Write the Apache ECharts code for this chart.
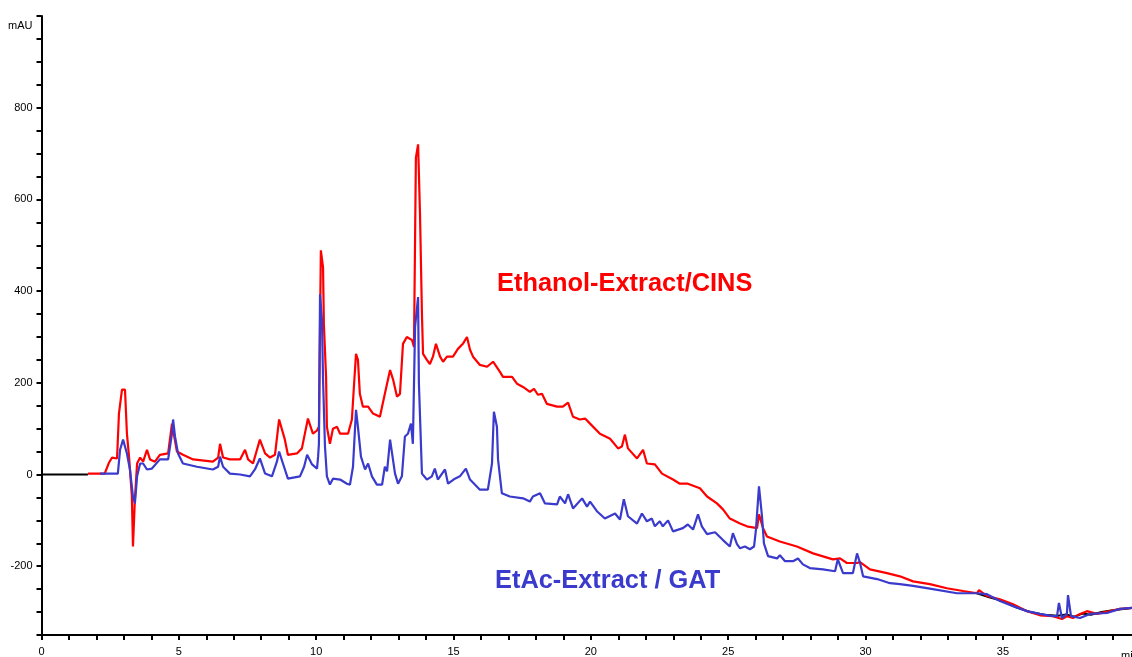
<!DOCTYPE html>
<html><head><meta charset="utf-8">
<script src="https://cdn.jsdelivr.net/npm/echarts@6/dist/echarts.min.js"></script>
<style>html,body{margin:0;padding:0;background:#fff}#c{width:1132px;height:657px}</style>
</head><body><div id="c"></div>
<script>
// Ethanol-Extract / CINS (red)
const ethanolTime = [1.69,2.13,2.3,2.45,2.57,2.75,2.82,2.93,3.0,3.04,3.11,3.19,3.29,3.33,3.40,3.48,3.59,3.70,3.84,3.95,4.13,4.31,4.61,4.75,4.79,4.93,5.15,5.52,6.24,6.43,6.50,6.61,6.86,7.23,7.41,7.52,7.70,7.95,8.14,8.32,8.50,8.65,8.86,8.97,9.30,9.48,9.70,9.88,10.03,10.10,10.17,10.25,10.28,10.36,10.39,10.50,10.61,10.76,10.87,11.16,11.30,11.38,11.45,11.52,11.59,11.70,11.89,12.07,12.32,12.50,12.69,12.80,12.94,13.05,13.16,13.30,13.49,13.56,13.63,13.71,13.78,13.85,13.89,14.03,14.14,14.25,14.36,14.51,14.62,14.76,14.98,15.16,15.34,15.49,15.60,15.71,15.96,16.22,16.44,16.69,16.80,17.13,17.31,17.53,17.78,17.93,18.07,18.22,18.40,18.77,18.98,19.17,19.35,19.60,19.79,19.97,20.33,20.70,20.99,21.13,21.24,21.35,21.68,21.90,22.04,22.33,22.59,22.99,23.24,23.53,23.97,24.23,24.59,24.81,25.06,25.43,25.68,26.05,26.12,26.27,26.41,26.88,27.50,28.09,28.81,29.07,29.32,29.69,29.80,30.16,30.78,31.25,31.73,32.34,32.96,33.55,34.06,34.13,34.42,34.89,35.37,35.88,36.35,36.82,37.15,37.33,37.55,37.81,38.06,38.42,38.90,39.26,39.70];
const ethanolValue = [2,2,2,25,37,35,133,185,187,185,89,37,-48,-157,-54,24,37,28,54,33,28,43,46,111,115,50,43,33,28,37,67,37,33,33,54,33,24,76,46,37,43,120,76,43,46,57,122,89,96,104,489,452,328,213,104,67,100,104,89,89,120,198,263,250,176,148,148,133,126,176,228,207,170,176,285,300,293,278,691,720,567,350,263,250,241,257,285,257,246,257,257,274,285,300,272,257,239,235,246,224,213,213,198,191,180,187,174,176,154,148,148,157,126,120,122,111,89,78,57,61,87,57,35,54,24,22,2,-11,-20,-20,-30,-48,-63,-76,-96,-107,-113,-117,-87,-117,-135,-146,-157,-172,-185,-183,-193,-193,-191,-207,-215,-222,-233,-239,-248,-254,-259,-252,-265,-272,-283,-298,-307,-309,-315,-309,-313,-304,-298,-304,-298,-293,-291];

// EtAc-Extract / GAT (blue)
const etacTime = [2.13,2.78,2.86,2.97,3.11,3.22,3.33,3.40,3.48,3.59,3.70,3.84,4.02,4.31,4.61,4.75,4.79,4.86,4.97,5.15,5.66,6.24,6.43,6.50,6.61,6.86,7.23,7.59,7.77,7.95,8.14,8.39,8.57,8.65,8.79,8.97,9.41,9.56,9.67,9.85,10.03,10.07,10.10,10.14,10.21,10.25,10.32,10.39,10.50,10.61,10.87,11.12,11.23,11.34,11.45,11.52,11.63,11.78,11.89,12.03,12.21,12.40,12.50,12.58,12.69,12.76,12.87,12.98,13.12,13.23,13.34,13.45,13.52,13.60,13.71,13.74,13.85,14.03,14.21,14.32,14.43,14.69,14.80,15.05,15.23,15.45,15.60,15.96,16.25,16.40,16.47,16.58,16.62,16.76,17.05,17.53,17.78,17.89,18.15,18.33,18.77,18.87,19.06,19.17,19.35,19.68,19.86,19.97,20.22,20.51,20.88,21.06,21.20,21.35,21.68,21.86,22.04,22.22,22.33,22.51,22.62,22.81,22.99,23.35,23.53,23.72,23.90,24.04,24.23,24.52,24.81,25.06,25.17,25.32,25.43,25.61,25.79,25.94,26.01,26.12,26.23,26.30,26.45,26.78,26.88,27.07,27.36,27.54,27.72,27.97,28.45,28.89,28.99,29.18,29.54,29.69,29.80,29.91,30.42,30.89,31.25,31.73,32.45,33.33,34.06,34.42,34.89,35.37,35.88,36.35,36.82,36.97,37.04,37.15,37.33,37.37,37.48,37.81,38.17,38.79,39.26,39.70];
const etacValue = [2,2,54,76,46,11,-48,-63,-4,24,24,11,13,33,33,89,120,83,46,24,17,11,17,39,17,2,0,-4,11,35,2,-4,28,50,24,-9,-4,17,43,22,13,39,67,393,337,207,61,-4,-22,-9,-11,-20,-22,17,141,104,39,11,24,-4,-22,-22,17,7,76,72,2,-20,-4,83,89,111,67,322,387,198,2,-11,-4,13,-11,11,-20,-9,-4,13,-11,-33,-33,24,137,104,33,-41,-48,-52,-59,-48,-41,-63,-65,-48,-63,-43,-74,-52,-70,-59,-80,-96,-85,-98,-54,-91,-107,-85,-102,-96,-113,-102,-113,-100,-124,-117,-109,-120,-87,-113,-130,-126,-143,-157,-128,-152,-161,-157,-163,-157,-120,-26,-91,-150,-178,-183,-176,-189,-189,-183,-196,-204,-207,-211,-185,-215,-215,-172,-193,-222,-228,-237,-239,-243,-250,-259,-259,-261,-276,-287,-298,-304,-309,-309,-280,-313,-304,-263,-309,-313,-304,-302,-293,-291];

// third (black) trace, mostly hidden underneath
const blankTime = [0,1.69,null,34.0,34.5,35.0,35.5,36.0,36.5,37.0,37.3,37.6,37.9,38.2,38.6,39.0,39.70];
const blankValue = [0,0,null,-258,-268,-276,-290,-300,-306,-308,-305,-310,-303,-306,-300,-296,-291];

const zip = (t, v) => t.map((x, i) => x === null ? [null, null] : [x, v[i]]);
const FONT = '"Liberation Sans", Arial, sans-serif';

const chart = echarts.init(document.getElementById('c'), null, {renderer: 'canvas'});
chart.setOption({
  animation: false,
  backgroundColor: '#ffffff',
  grid: {left: 41.5, right: 0, top: 16, bottom: 17.3, containLabel: false},
  xAxis: {
    type: 'value', min: 0, max: 39.7, interval: 1,
    splitLine: {show: false},
    axisLine: {onZero: false, lineStyle: {color: '#000', width: 2}},
    axisTick: {length: 5, lineStyle: {color: '#000', width: 2}},
    axisLabel: {
      margin: 11, color: '#000', fontSize: 11, fontFamily: FONT,
      showMaxLabel: false,
      formatter: v => (Math.abs(v % 5) < 1e-9 ? String(v) : '')
    }
  },
  yAxis: {
    type: 'value', min: -350, max: 1000, interval: 50,
    splitLine: {show: false},
    axisLine: {onZero: false, lineStyle: {color: '#000', width: 2}},
    axisTick: {length: 5, lineStyle: {color: '#000', width: 2}},
    axisLabel: {
      margin: 9, color: '#000', fontSize: 11, fontFamily: FONT,
      formatter: v => (v % 200 === 0 && v !== 1000 ? String(v) : '')
    }
  },
  series: [
    {type: 'line', data: zip(blankTime, blankValue), showSymbol: false, connectNulls: false,
     lineStyle: {color: '#000000', width: 2}, z: 1},
    {type: 'line', data: zip(ethanolTime, ethanolValue), showSymbol: false,
     lineStyle: {color: '#ff0000', width: 2.2}, z: 2},
    {type: 'line', data: zip(etacTime, etacValue), showSymbol: false,
     lineStyle: {color: '#3a3acc', width: 2.2}, z: 3}
  ],
  graphic: [
    {type: 'text', left: 8, top: 20, style: {text: 'mAU', fill: '#000', font: '11px ' + FONT}},
    {type: 'text', left: 1121, top: 650, style: {text: 'min', fill: '#000', font: '11px ' + FONT}},
    {type: 'text', left: 497, top: 271, style: {text: 'Ethanol-Extract/CINS', fill: '#ff0000', font: 'bold 25.4px ' + FONT}},
    {type: 'text', left: 495, top: 568, style: {text: 'EtAc-Extract / GAT', fill: '#3a3acc', font: 'bold 25.4px ' + FONT}}
  ]
});
</script>
</body></html>
